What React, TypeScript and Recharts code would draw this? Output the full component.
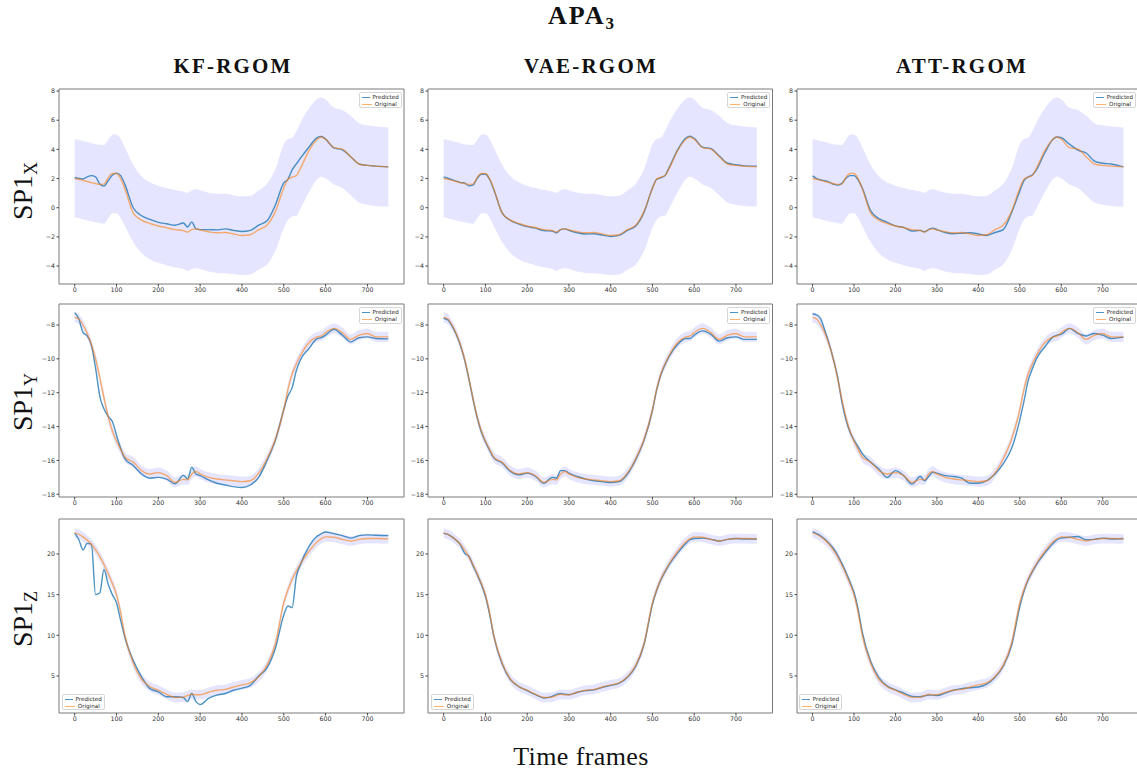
import React from "react";
import { ComposedChart, Line, Area, XAxis, YAxis, ReferenceArea } from "recharts";

// time frames sampled along the curves
const frames = [
    0, 10, 20, 30, 40, 50, 60, 70, 80, 90,
    100, 110, 120, 140, 160, 180, 200, 220, 240, 260,
    270, 280, 290, 300, 320, 340, 360, 380, 400, 420,
    440, 460, 480, 500, 510, 520, 530, 540, 560, 580,
    590, 600, 620, 640, 660, 680, 700, 720, 750,
];

// SP1 X
const xOriginal = [
    2.0, 1.95, 1.87, 1.8, 1.72, 1.66, 1.6, 1.62, 2.05, 2.35,
    2.35, 2.0, 1.3, -0.35, -0.85, -1.08, -1.25, -1.37, -1.5, -1.57,
    -1.67, -1.5, -1.45, -1.52, -1.65, -1.72, -1.7, -1.8, -1.9, -1.85,
    -1.5, -1.2, -0.25, 1.35, 1.95, 2.1, 2.2, 2.7, 3.9, 4.7,
    4.85, 4.7, 4.12, 4.02, 3.5, 3.0, 2.9, 2.85, 2.8,
];
const xBandHigh = [
    4.72, 4.65, 4.58, 4.5, 4.42, 4.36, 4.32, 4.3, 4.65, 5.0,
    5.02, 4.72, 4.15, 2.95, 2.15, 1.75, 1.5, 1.35, 1.22, 1.12,
    1.02, 1.2, 1.27, 1.2, 1.02, 0.95, 0.95, 0.85, 0.78, 0.82,
    1.2, 1.65, 2.65, 4.35, 4.72, 4.8, 5.25, 5.85, 6.8, 7.45,
    7.55, 7.42, 6.85, 6.7, 6.3, 5.8, 5.65, 5.57, 5.5,
];
const xBandLow = [
    -0.65, -0.72, -0.8, -0.88, -0.95, -1.0, -1.05, -1.1, -0.75, -0.4,
    -0.38, -0.7, -1.25, -2.35, -3.1, -3.55, -3.78, -3.95, -4.1, -4.2,
    -4.33, -4.2, -4.15, -4.2, -4.38, -4.47, -4.5, -4.57, -4.62, -4.58,
    -4.25, -3.9, -2.95, -1.4, -0.85, -0.6, -0.55, -0.05, 1.05, 1.95,
    2.12, 2.0, 1.6, 1.35, 0.85, 0.35, 0.2, 0.12, 0.08,
];
const xPredKF = [
    2.07, 2.0, 1.97, 2.12, 2.2, 2.12, 1.62, 1.48, 1.85, 2.22,
    2.37, 2.2, 1.6, 0.0, -0.55, -0.8, -1.0, -1.1, -1.2, -1.05,
    -1.32, -0.97, -1.45, -1.5, -1.5, -1.52, -1.45, -1.55, -1.63, -1.55,
    -1.2, -0.9, 0.2, 1.7, 1.95, 2.6, 3.0, 3.4, 4.15, 4.8,
    4.88, 4.7, 4.1, 3.97, 3.5, 3.0, 2.9, 2.85, 2.8,
];
const xPredVAE = [
    2.12, 2.02, 1.92, 1.82, 1.72, 1.7, 1.5, 1.55, 2.0, 2.3,
    2.3, 1.95, 1.25, -0.35, -0.87, -1.12, -1.3, -1.4, -1.57, -1.6,
    -1.72, -1.5, -1.45, -1.55, -1.72, -1.8, -1.78, -1.88, -1.97, -1.9,
    -1.55, -1.25, -0.3, 1.35, 1.95, 2.05, 2.2, 2.75, 3.95, 4.78,
    4.9, 4.75, 4.15, 4.05, 3.55, 3.05, 2.95, 2.87, 2.85,
];
const xPredATT = [
    2.18, 2.0, 1.9, 1.85, 1.75, 1.62, 1.55, 1.65, 2.0, 2.2,
    2.2, 1.9, 1.35, -0.2, -0.75, -1.0, -1.25, -1.35, -1.6, -1.55,
    -1.65, -1.5, -1.4, -1.5, -1.7, -1.78, -1.75, -1.72, -1.8, -1.9,
    -1.7, -1.5, -0.35, 1.15, 1.85, 2.1, 2.25, 2.6, 3.75, 4.7,
    4.85, 4.8, 4.35, 3.95, 3.75, 3.2, 3.05, 3.0, 2.8,
];

// SP1 Y
const yOriginal = [
    -7.55, -7.65, -8.0, -8.5, -9.15, -10.0, -11.1, -12.3, -13.4, -14.25,
    -14.85, -15.35, -15.8, -16.1, -16.6, -16.8, -16.72, -16.9, -17.3, -17.12,
    -17.15, -16.8, -16.65, -16.8, -17.0, -17.1, -17.15, -17.2, -17.25, -17.2,
    -16.75, -15.9, -14.75, -13.0, -11.8, -10.9, -10.3, -9.8, -9.05, -8.7,
    -8.65, -8.45, -8.2, -8.45, -8.85, -8.6, -8.5, -8.7, -8.7,
];
const yPredKF = [
    -7.27, -7.65, -8.45, -8.65, -9.2, -10.55, -12.2, -12.95, -13.4, -13.7,
    -14.5, -15.3, -15.9, -16.3, -16.8, -17.05, -17.0, -17.1, -17.38, -16.88,
    -17.1, -16.4, -16.8, -16.9, -17.15, -17.35, -17.45, -17.55, -17.6, -17.45,
    -17.0, -16.0, -14.8, -13.0, -12.2, -11.7, -10.7, -10.05, -9.4, -8.8,
    -8.75, -8.6, -8.25, -8.6, -9.0, -8.75, -8.7, -8.8, -8.82,
];
const yPredVAE = [
    -7.6, -7.7, -8.05, -8.55, -9.2, -10.05, -11.15, -12.35, -13.45, -14.3,
    -14.9, -15.4, -15.85, -16.15, -16.65, -16.85, -16.75, -16.95, -17.35, -17.0,
    -17.05, -16.6, -16.6, -16.75, -16.95, -17.1, -17.2, -17.25, -17.3, -17.25,
    -16.8, -15.95, -14.8, -13.05, -11.85, -10.95, -10.35, -9.85, -9.15, -8.8,
    -8.8, -8.6, -8.35, -8.55, -8.95, -8.75, -8.7, -8.85, -8.85,
];
const yPredATT = [
    -7.35, -7.4, -7.65, -8.35, -9.1, -10.0, -11.0, -12.45, -13.55, -14.3,
    -14.8, -15.2, -15.6, -16.1, -16.5, -17.0, -16.6, -16.9, -17.4, -16.95,
    -17.2, -16.95, -16.7, -16.75, -16.9, -16.95, -17.05, -17.35, -17.35, -17.2,
    -16.8, -16.2, -15.3, -13.6, -12.5, -11.3, -10.6, -10.0, -9.3, -8.7,
    -8.6, -8.55, -8.2, -8.5, -8.65, -8.5, -8.6, -8.8, -8.72,
];
const yBandWidth = 0.3;

// SP1 Z
const zOriginal = [
    22.6, 22.4, 22.1, 21.7, 21.2, 20.5, 19.7, 18.7, 17.6, 16.4,
    15.0, 12.8, 10.0, 6.6, 4.6, 3.7, 3.25, 2.75, 2.35, 2.4,
    2.6, 2.75, 2.7, 2.7, 3.0, 3.25, 3.35, 3.65, 3.9, 4.15,
    4.9, 6.3, 9.0, 14.0, 15.6, 16.9, 17.9, 18.8, 20.3, 21.5,
    21.9, 22.1, 22.05, 21.8, 21.6, 21.8, 21.9, 21.9, 21.85,
];
const zPredKF = [
    22.56, 21.75, 20.5, 21.3, 21.2, 15.0, 15.2, 18.1, 16.3, 15.0,
    14.0, 11.8, 9.75, 6.9, 4.9, 3.45, 3.05, 2.45, 2.45, 2.35,
    1.85, 2.85, 1.85, 1.5, 2.25, 2.65, 2.85, 3.25, 3.5, 3.85,
    5.0, 6.0, 8.4, 12.5, 13.6, 13.4, 17.2, 18.7, 20.9, 22.2,
    22.5, 22.7, 22.5, 22.25, 21.95, 22.25, 22.35, 22.3, 22.25,
];
const zPredVAE = [
    22.55, 22.4, 22.1, 21.7, 21.15, 20.1, 19.75, 18.6, 17.5, 16.3,
    14.8, 12.6, 9.9, 6.5, 4.55, 3.7, 3.2, 2.7, 2.3, 2.5,
    2.75, 2.85, 2.75, 2.7, 3.0, 3.2, 3.3, 3.6, 3.85, 4.1,
    4.85, 6.2, 8.9, 13.8, 15.5, 16.8, 17.8, 18.7, 20.1, 21.3,
    21.75, 21.9, 21.95, 21.8, 21.6, 21.8, 21.9, 21.85, 21.85,
];
const zPredATT = [
    22.75, 22.5, 22.2, 21.8, 21.3, 20.7, 19.9, 18.9, 17.8, 16.6,
    15.3, 13.2, 10.4, 6.8, 4.8, 3.75, 3.3, 2.9, 2.5, 2.45,
    2.55, 2.65, 2.65, 2.6, 2.9, 3.25, 3.45, 3.55, 3.65, 4.0,
    4.85, 6.2, 8.7, 13.5, 15.4, 16.8, 17.8, 18.7, 20.1, 21.3,
    21.75, 21.95, 22.05, 22.15, 21.75, 21.8, 21.95, 21.85, 21.9,
];
const zBandWidth = 0.6;

const models = ["KF-RGOM", "VAE-RGOM", "ATT-RGOM"];
const frameTicks = [0, 100, 200, 300, 400, 500, 600, 700];
const frameDomain: [number, number] = [-37.5, 787.5];
const xTicks = [-4, -2, 0, 2, 4, 6, 8];
const yTicks = [-18, -16, -14, -12, -10, -8];
const zTicks = [5, 10, 15, 20];

const PRED_COLOR = "#1f77b4";
const ORIG_COLOR = "#ff7f0e";

const rows = [
    {
        sub: "X", top: 88.8, height: 195, labelY: 191, domain: [-5.23, 8.14], ticks: xTicks,
        original: xOriginal, low: xBandLow, high: xBandHigh,
        predicted: [xPredKF, xPredVAE, xPredATT], legendAt: "top",
    },
    {
        sub: "Y", top: 304.2, height: 193, labelY: 402, domain: [-18.16, -6.76], ticks: yTicks,
        original: yOriginal, low: yOriginal.map((v) => v - yBandWidth), high: yOriginal.map((v) => v + yBandWidth),
        predicted: [yPredKF, yPredVAE, yPredATT], legendAt: "top",
    },
    {
        sub: "Z", top: 518.5, height: 194, labelY: 619, domain: [0.45, 24.3], ticks: zTicks,
        original: zOriginal, low: zOriginal.map((v) => v - zBandWidth), high: zOriginal.map((v) => v + zBandWidth),
        predicted: [zPredKF, zPredVAE, zPredATT], legendAt: "bottom",
    },
];

const cols = [
    { left: 59.3, width: 345, titleX: 233 },
    { left: 428.3, width: 344.5, titleX: 591 },
    { left: 796.6, width: 342, titleX: 962 },
];

const CHART_TOP = 4;
const CHART_RIGHT = 4;
const Y_AXIS_W = 30;
const X_AXIS_H = 16;

const tickStyle = { fontSize: 6.3, fill: "#333", fontFamily: "DejaVu Sans" };
const fmt = (v: number) => (v < 0 ? "\u2212" + Math.abs(v) : String(v));

function LegendBox({ at }: { at: string }) {
    const pos: React.CSSProperties =
        at === "top"
            ? { right: CHART_RIGHT + 2.5, top: CHART_TOP + 3 }
            : { left: Y_AXIS_W + 2.5, bottom: X_AXIS_H + 2.5 };
    const items = [
        { name: "Predicted", color: PRED_COLOR, op: 0.8 },
        { name: "Original", color: ORIG_COLOR, op: 0.6 },
    ];
    return (
        <div
            style={{
                position: "absolute", ...pos, width: 43, height: 16.5, boxSizing: "border-box",
                border: "1px solid #d6d6d6", borderRadius: 2, background: "rgba(255,255,255,0.85)",
                padding: "1px 2px", fontFamily: "DejaVu Sans", fontSize: 5.6, color: "#222", lineHeight: "7px",
            }}
        >
            {items.map((it) => (
                <div key={it.name} style={{ display: "flex", alignItems: "center" }}>
                    <span style={{ display: "inline-block", width: 10, borderTop: `1.5px solid ${it.color}`, opacity: it.op, marginRight: 3 }} />
                    {it.name}
                </div>
            ))}
        </div>
    );
}

function Panel({ rowIdx, colIdx }: { rowIdx: number; colIdx: number }) {
    const row = rows[rowIdx];
    const col = cols[colIdx];
    const W = col.width + Y_AXIS_W + CHART_RIGHT;
    const H = row.height + CHART_TOP + X_AXIS_H;
    const pred = row.predicted[colIdx];
    const data = frames.map((f, i) => ({
        frame: f,
        predicted: pred[i],
        original: row.original[i],
        band: [row.low[i], row.high[i]],
    }));
    return (
        <div style={{ position: "absolute", left: col.left - Y_AXIS_W, top: row.top - CHART_TOP, width: W, height: H }}>
            <ComposedChart width={W} height={H} data={data} margin={{ top: CHART_TOP, right: CHART_RIGHT, left: 0, bottom: 0 }}>
                <XAxis
                    dataKey="frame" type="number" domain={frameDomain} ticks={frameTicks} allowDataOverflow
                    interval={0} height={X_AXIS_H} axisLine={false} tickLine={{ stroke: "#444" }}
                    tickSize={2.5} tickMargin={1} tick={tickStyle}
                />
                <YAxis
                    type="number" domain={row.domain} ticks={row.ticks} allowDataOverflow interval={0}
                    width={Y_AXIS_W} axisLine={false} tickLine={{ stroke: "#444" }}
                    tickSize={2.5} tickMargin={1.5} tick={tickStyle} tickFormatter={fmt}
                />
                <Area dataKey="band" type="monotone" stroke="none" fill="#0000ff" fillOpacity={0.1} isAnimationActive={false} />
                <Line dataKey="predicted" type="monotone" stroke={PRED_COLOR} strokeOpacity={0.8} strokeWidth={1.4} dot={false} activeDot={false} isAnimationActive={false} />
                <Line dataKey="original" type="monotone" stroke={ORIG_COLOR} strokeOpacity={0.6} strokeWidth={1.4} dot={false} activeDot={false} isAnimationActive={false} />
                <ReferenceArea
                    x1={frameDomain[0]} x2={frameDomain[1]} y1={row.domain[0]} y2={row.domain[1]}
                    fill="none" stroke="#7a7a7a" strokeWidth={1} ifOverflow="visible"
                />
            </ComposedChart>
            <LegendBox at={row.legendAt} />
        </div>
    );
}

export default function App() {
    return (
        <div
            style={{
                position: "fixed", left: 0, top: 0, width: 1137, height: 776, overflow: "hidden",
                background: "#fff", fontFamily: '"Liberation Serif", "Times New Roman", serif', color: "#111",
            }}
        >
            <div style={{ position: "absolute", left: 581, top: 3, transform: "translateX(-50%)", fontSize: 26, lineHeight: "26px", fontWeight: "bold", letterSpacing: 2, whiteSpace: "nowrap" }}>
                APA<span style={{ fontSize: 17, position: "relative", top: 5, letterSpacing: 0 }}>3</span>
            </div>

            {models.map((m, i) => (
                <div key={m} style={{ position: "absolute", left: cols[i].titleX, top: 56, transform: "translateX(-50%)", fontSize: 21, lineHeight: "21px", fontWeight: "bold", letterSpacing: 2.2, whiteSpace: "nowrap" }}>
                    {m}
                </div>
            ))}

            {rows.map((r) => (
                <div key={r.sub} style={{ position: "absolute", left: 24, top: r.labelY, transform: "translate(-50%, -50%) rotate(-90deg)", fontSize: 28, lineHeight: "28px", whiteSpace: "nowrap" }}>
                    SP1<span style={{ fontSize: 18, position: "relative", top: 5 }}>{r.sub}</span>
                </div>
            ))}

            {rows.map((r, ri) => cols.map((c, ci) => <Panel key={`${ri}-${ci}`} rowIdx={ri} colIdx={ci} />))}

            <div style={{ position: "absolute", left: 581, top: 744, transform: "translateX(-50%)", fontSize: 26, lineHeight: "26px", letterSpacing: 0.4, whiteSpace: "nowrap" }}>
                Time frames
            </div>
        </div>
    );
}
